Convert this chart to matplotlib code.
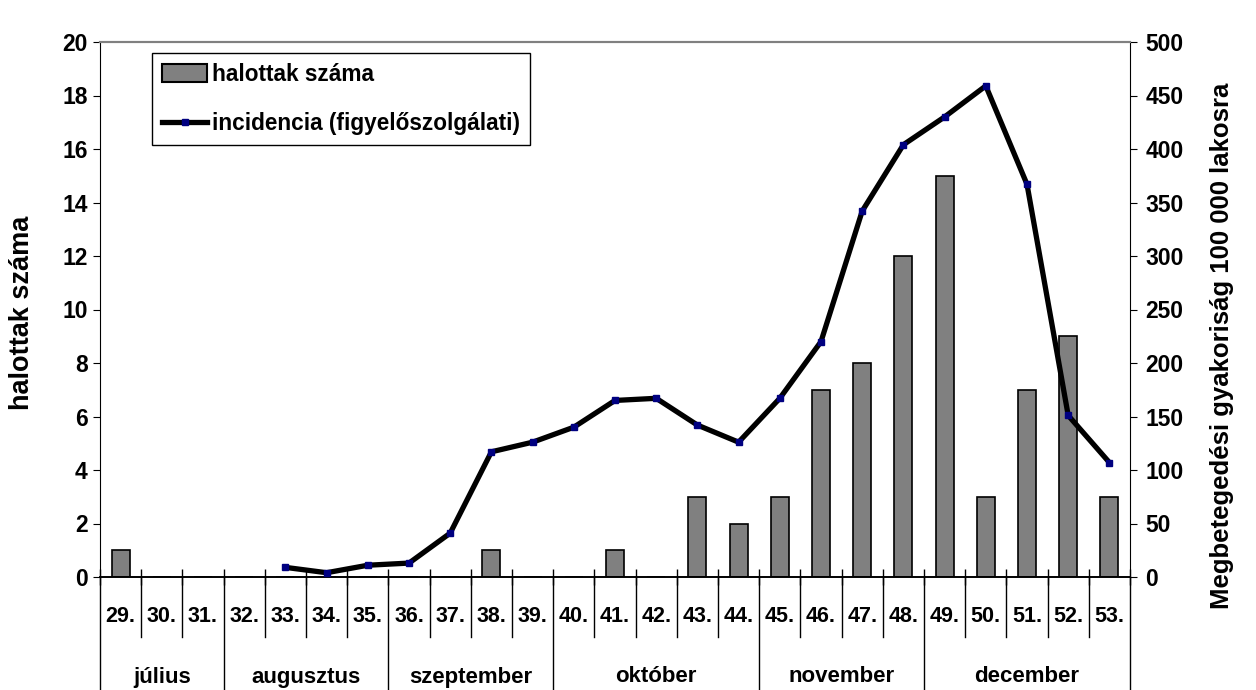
import numpy as np
import matplotlib
matplotlib.use("Agg")
import matplotlib.pyplot as plt
from matplotlib.lines import Line2D
from matplotlib.patches import Patch

plt.rcParams['font.family'] = ['Liberation Sans', 'DejaVu Sans']
plt.rcParams['font.weight'] = 'bold'

# weeks on the category axis
weeks = ['29.', '30.', '31.', '32.', '33.', '34.', '35.', '36.', '37.', '38.', '39.', '40.', '41.',
         '42.', '43.', '44.', '45.', '46.', '47.', '48.', '49.', '50.', '51.', '52.', '53.']
months = ['július', 'augusztus', 'szeptember', 'október', 'november', 'december']
weeks_per_month = [3, 4, 4, 5, 4, 5]

# number of deaths per week
deaths = [1, 0, 0, 0, 0, 0, 0, 0, 0, 1, 0, 0, 1, 0, 3, 2, 3, 7, 8, 12, 15, 3, 7, 9, 3]

# incidence per 100 000 (no data before week 33)
incidence = [np.nan, np.nan, np.nan, np.nan, 9, 4, 11, 13, 41, 117, 126, 140, 165,
             167, 142, 126, 167, 220, 342, 404, 430, 459, 367, 151, 107]

W, H = 1256, 690
fig = plt.figure(figsize=(W / 100, H / 100), dpi=100)
ax = fig.add_axes([100 / W, 1 - 577 / H, 1030 / W, 535 / H])
ax2 = ax.twinx()

x = np.arange(len(weeks))
ax.bar(x, deaths, width=0.44, color='#808080', edgecolor='black', linewidth=1.2, zorder=2)
ax2.plot(x, incidence, color='black', lw=3.8, marker='s', markersize=4.5,
         markerfacecolor='#000080', markeredgecolor='#000080', zorder=3)

ax.set_xlim(-0.5, len(weeks) - 0.5)
ax.set_ylim(0, 20)
ax2.set_ylim(0, 500)
ax.set_yticks(np.arange(0, 21, 2))
ax2.set_yticks(np.arange(0, 501, 50))

fs_tick = 16.5
fs_cat = 15.5
ax.tick_params(axis='y', direction='out', length=5, labelsize=fs_tick, pad=4)
ax2.tick_params(axis='y', direction='out', length=5, labelsize=fs_tick, pad=6)
for lab in ax.get_yticklabels() + ax2.get_yticklabels():
    lab.set_fontweight('bold')

# category axis: boundaries as ticks, labels drawn as text
ax.set_xticks(np.arange(-0.5, len(weeks), 1))
ax.set_xticklabels([])
ax.tick_params(axis='x', direction='inout', length=12, width=1)

for a in (ax, ax2):
    a.spines['top'].set_color('#808080')
    a.spines['top'].set_linewidth(1.5)
    a.spines['bottom'].set_linewidth(1.2)
ax2.spines['left'].set_visible(False)
ax.spines['right'].set_visible(False)

trans = ax.get_xaxis_transform()
week_bottom = (577 - 637) / 535
month_bottom = (577 - 690) / 535
month_edges = np.cumsum([0] + weeks_per_month)
for i in range(len(weeks) + 1):
    yb = month_bottom if i in month_edges else week_bottom
    ax.plot([i - 0.5, i - 0.5], [0, yb], color='black', lw=1, transform=trans, clip_on=False)

for i, w in enumerate(weeks):
    ax.text(i, (577 - 617) / 535, w, transform=trans, ha='center', va='center',
            fontsize=fs_cat, fontweight='bold')
for m, a, b in zip(months, month_edges[:-1], month_edges[1:]):
    ax.text((a + b - 1) / 2, (577 - 677) / 535, m, transform=trans, ha='center',
            va='center', fontsize=fs_cat + 0.5, fontweight='bold')

fig.text(22 / W, 1 - 313 / H, 'halottak száma', rotation=90, ha='center', va='center',
         fontsize=19.5, fontweight='bold')
fig.text(1222 / W, 1 - 346 / H, 'Megbetegedési gyakoriság 100 000 lakosra', rotation=90,
         ha='center', va='center', fontsize=18.5, fontweight='bold')

handles = [Patch(facecolor='#808080', edgecolor='black', linewidth=1.5),
           Line2D([], [], color='black', lw=3.8, marker='s', markersize=4.5,
                  markerfacecolor='#000080', markeredgecolor='#000080')]
leg = ax2.legend(handles, ['halottak száma', 'incidencia (figyelőszolgálati)'],
                 loc='upper left', bbox_to_anchor=(152 / W, 1 - 53 / H),
                 bbox_transform=fig.transFigure, borderaxespad=0, fancybox=False,
                 framealpha=1, edgecolor='black', prop={'size': 16.3, 'weight': 'bold'},
                 handlelength=2.0, handleheight=0.85, handletextpad=0.2,
                 labelspacing=1.15, borderpad=0.45)
leg.get_frame().set_linewidth(1)

fig.savefig('out.png', dpi=100)
